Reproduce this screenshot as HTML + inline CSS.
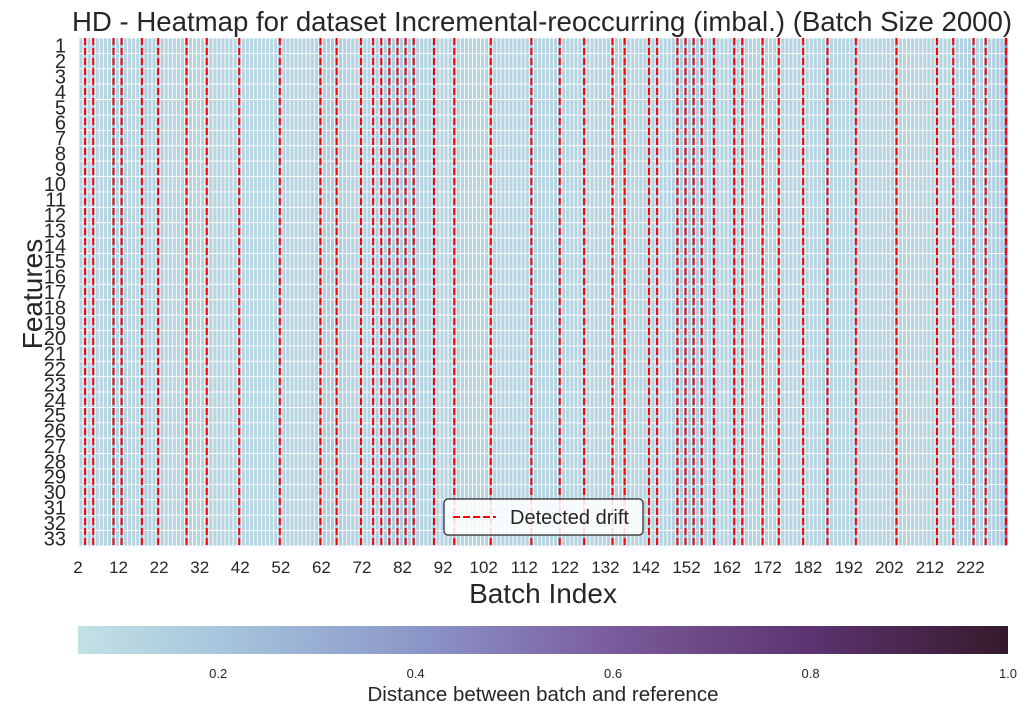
<!DOCTYPE html>
<html><head><meta charset="utf-8"><style>
body{margin:0;background:#fff;}
svg{font-family:"Liberation Sans",Arial,sans-serif;}
</style></head><body>
<svg id="chart" width="1028" height="716" viewBox="0 0 1028 716" xmlns="http://www.w3.org/2000/svg">
<text x="542" y="31" font-size="27.6" text-anchor="middle" fill="#262626">HD - Heatmap for dataset Incremental-reoccurring (imbal.) (Batch Size 2000)</text>
<g id="cells"></g>
<g id="drifts"></g>
<g id="yticks"></g>
<g id="xticks"></g>
<text transform="translate(42,294) rotate(-90)" font-size="28" text-anchor="middle" fill="#262626">Features</text>
<text x="543" y="603" font-size="28" text-anchor="middle" fill="#262626">Batch Index</text>
<g>
<rect x="444" y="499" width="199" height="36" rx="4" fill="#fff" fill-opacity="0.85" stroke="#262626" stroke-width="1.2"/>
<line x1="453" y1="517" x2="496" y2="517" stroke="#ff0000" stroke-width="2" stroke-dasharray="7,3"/>
<text x="510" y="524" font-size="20" fill="#262626">Detected drift</text>
</g>
<defs><linearGradient id="cbg" x1="0" x2="1" y1="0" y2="0"></linearGradient></defs>
<rect x="78" y="626" width="930" height="28" fill="url(#cbg)"/>
<g id="cbticks"></g>
<text x="543" y="701" font-size="20.5" text-anchor="middle" fill="#262626">Distance between batch and reference</text>
</svg>
<script>
const batches = []; for (let b = 2; b <= 230; b++) batches.push(b);
const features = []; for (let f = 1; f <= 33; f++) features.push(f);
const columnValues = [
.13,.18,.13,.18,.12,.12,.12,.12,.18,.12,
.18,.12,.12,.12,.12,.18,.16,.16,.13,.18,
.14,.12,.12,.12,.12,.12,.17,.12,.12,.12,
.12,.17,.12,.12,.12,.12,.12,.12,.11,.17,
.11,.11,.11,.11,.11,.11,.11,.11,.11,.17,
.12,.12,.12,.12,.12,.12,.13,.13,.13,.17,
.15,.15,.16,.18,.15,.15,.14,.13,.13,.18,
.13,.13,.18,.15,.18,.17,.18,.16,.18,.15,
.18,.14,.18,.13,.13,.13,.13,.18,.12,.12,
.12,.12,.18,.12,.12,.12,.12,.12,.12,.12,
.12,.18,.12,.12,.12,.12,.12,.12,.12,.12,
.12,.18,.12,.12,.12,.12,.12,.12,.18,.12,
.12,.12,.12,.12,.18,.12,.12,.12,.12,.12,
.12,.18,.13,.13,.22,.13,.13,.13,.13,.13,
.2,.13,.2,.13,.13,.13,.13,.18,.15,.18,
.16,.18,.16,.18,.14,.14,.2,.13,.13,.13,
.13,.24,.13,.18,.13,.13,.13,.13,.18,.13,
.13,.13,.18,.12,.12,.12,.12,.12,.18,.12,
.12,.12,.12,.12,.18,.12,.12,.12,.12,.12,
.12,.18,.12,.12,.12,.12,.12,.12,.12,.12,
.12,.18,.12,.12,.12,.12,.12,.12,.12,.12,
.12,.18,.12,.12,.12,.18,.14,.14,.14,.14,
.18,.13,.13,.18,.14,.16,.17,.18,.45];
const driftBatches = [3,5,10,12,17,21,28,33,41,51,61,65,71,74,76,78,80,82,84,89,94,103,113,120,126,133,136,142,144,149,151,153,155,158,163,165,170,174,180,186,193,203,213,217,222,225,230];
const xTickLabels = [2,12,22,32,42,52,62,72,82,92,102,112,122,132,142,152,162,172,182,192,202,212,222];
const cbTicks = [0.2,0.4,0.6,0.8,1.0];
const vmin = 0.058, vmax = 1.0;

const NS = "http://www.w3.org/2000/svg";
const L = 79, R = 1008, T = 38, B = 546;
const cw = (R - L) / batches.length, rh = (B - T) / features.length;
const xPos = b => L + (b - batches[0]) * cw;
const yPos = f => T + (f - 1) * rh;
const stops = [[0,[195,225,229]],[0.15,[167,198,221]],[0.36,[140,152,201]],[0.58,[122,90,155]],[0.79,[92,51,112]],[1,[53,26,43]]];
function cmap(v){
  let t = Math.max(0, Math.min(1, (v - vmin) / (vmax - vmin)));
  for (let i = 1; i < stops.length; i++) {
    if (t <= stops[i][0]) {
      const a = stops[i-1], c = stops[i], u = (t - a[0]) / (c[0] - a[0]);
      return 'rgb(' + a[1].map((x, k) => Math.round(x + (c[1][k] - x) * u)).join(',') + ')';
    }
  }
  return 'rgb(53,26,43)';
}
function mk(tag, attrs, parent){
  const e = document.createElementNS(NS, tag);
  for (const k in attrs) e.setAttribute(k, attrs[k]);
  parent.appendChild(e); return e;
}
const cells = document.getElementById('cells');
features.forEach(f => {
  batches.forEach((b, i) => {
    const r = mk('rect', {x: xPos(b), y: yPos(f), width: cw, height: rh, fill: cmap(columnValues[i]), stroke: '#fff', 'stroke-width': 0.8}, cells);
    
    
  });
});
const drifts = document.getElementById('drifts');
driftBatches.forEach(b => {
  const x = xPos(b) + cw / 2;
  const l = mk('line', {x1: x, x2: x, y1: T, y2: B, stroke: '#ff0000', 'stroke-width': 2, 'stroke-dasharray': '7,3'}, drifts);
  
  
});
const yt = document.getElementById('yticks');
features.forEach(f => {
  const t = mk('text', {x: 66, y: yPos(f) + rh / 2 + 7, 'font-size': 20, 'text-anchor': 'end', fill: '#262626'}, yt);
  t.textContent = f;
  
  
});
const xt = document.getElementById('xticks');
xTickLabels.forEach(b => {
  const t = mk('text', {x: xPos(b) - 1, y: 573, 'font-size': 17, 'text-anchor': 'middle', fill: '#262626'}, xt);
  t.textContent = b;
  
  
});
const g = document.getElementById('cbg');
stops.forEach(s => mk('stop', {offset: s[0], 'stop-color': 'rgb(' + s[1].join(',') + ')'}, g));
const cbt = document.getElementById('cbticks');
cbTicks.forEach(v => {
  const x = 78 + (v - vmin) / (vmax - vmin) * 930;
  const t = mk('text', {x: x, y: 678, 'font-size': 13, 'text-anchor': 'middle', fill: '#262626'}, cbt);
  t.textContent = v.toFixed(1);
  
  
});
</script>
</body></html>
